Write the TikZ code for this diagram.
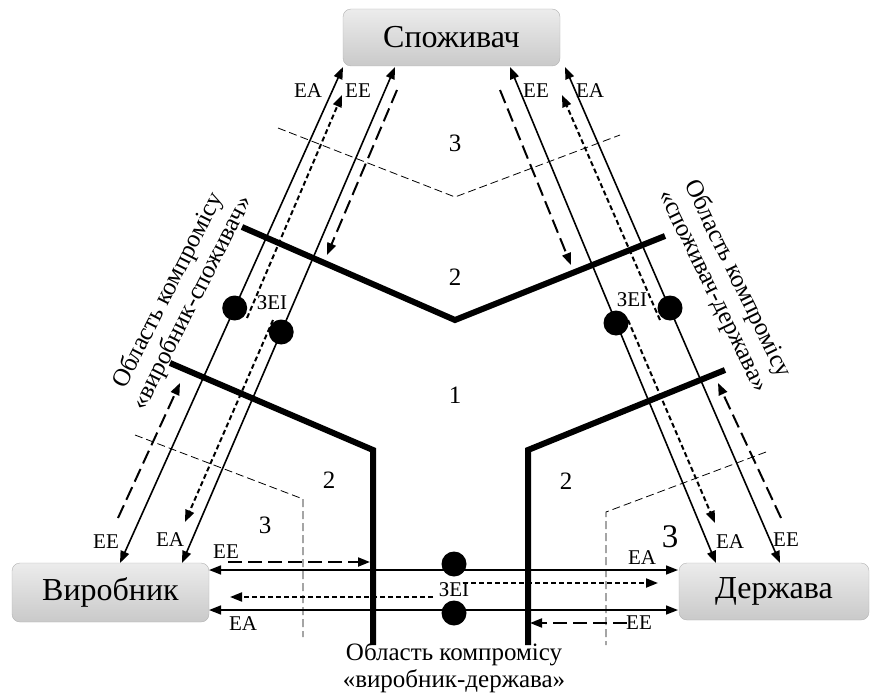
\documentclass[tikz,border=0pt]{standalone}
\usepackage{fontspec}
\setmainfont{Liberation Serif}
\usetikzlibrary{arrows.meta}

\begin{document}
\begin{tikzpicture}[x=1pt,y=-1pt]
\tikzstyle{box}=[rounded corners=8pt,draw=gray!60,top color=gray!15,bottom color=gray!42,font=\fontsize{32}{36}\selectfont,inner sep=0pt]
\tikzstyle{arr}=[line width=1.6pt,-{Triangle[length=12pt,width=9pt]}]
\tikzstyle{darr}=[line width=1.6pt,{Triangle[length=12pt,width=9pt]}-{Triangle[length=12pt,width=9pt]}]
\tikzstyle{sdash}=[line width=2pt,dash pattern=on 5pt off 3pt]
\tikzstyle{ldash}=[line width=2pt,dash pattern=on 14pt off 6pt]
\tikzstyle{border}=[line width=6pt]
\tikzstyle{zone}=[line width=0.8pt,dash pattern=on 8pt off 4pt]
\tikzstyle{dot}=[circle,fill=black,minimum size=25pt,inner sep=0pt]
\tikzstyle{lbl}=[font=\fontsize{21}{24}\selectfont,inner sep=0pt]
\tikzstyle{num}=[font=\fontsize{25}{28}\selectfont,inner sep=0pt]
\tikzstyle{area}=[font=\fontsize{25}{27}\selectfont,align=center,inner sep=0pt]
\useasboundingbox (0,0) rectangle (873,693);
\node[box,minimum width=217pt,minimum height=57pt] (spozh) at (451.5,37.5) {Споживач};
\node[box,minimum width=197pt,minimum height=59pt] (vyrob) at (110.5,592.5) {Виробник};
\node[box,minimum width=190pt,minimum height=57pt] (derzh) at (774,591.5) {Держава};
\coordinate (a1) at (120,563);
\coordinate (a2) at (343,67);
\coordinate (b1) at (182,563);
\coordinate (b2) at (395,67);
\coordinate (c1) at (716,563);
\coordinate (c2) at (510,67);
\coordinate (e1) at (780,563);
\coordinate (e2) at (565,67);
\coordinate (f1) at (209,570);
\coordinate (f2) at (678,570);
\coordinate (g1) at (209,610);
\coordinate (g2) at (678,610);
\node[dot] (k1) at (234.7,308) {};
\node[dot] (k2) at (281.2,332) {};
\node[dot] (k3) at (616,323) {};
\node[dot] (k4) at (670,308) {};
\node[dot] (k5) at (454,564) {};
\node[dot] (k6) at (454,613) {};
\draw[darr] (a1) -- (a2);
\draw[darr] (b1) -- (b2);
\draw[darr] (c2) -- (c1);
\draw[darr] (e2) -- (e1);
\draw[darr] (f1) -- (f2);
\draw[darr] (g1) -- (g2);
\coordinate (p1) at (247,318);
\coordinate (p2) at (342,95);
\coordinate (p3) at (273,320);
\coordinate (p4) at (185,522);
\coordinate (p5) at (660,320);
\coordinate (p6) at (562,95);
\coordinate (p7) at (628,320);
\coordinate (p8) at (715,523);
\coordinate (p9) at (463,583);
\coordinate (p10) at (658,583);
\coordinate (p11) at (433,597);
\coordinate (p12) at (230,597);
\draw[arr,sdash] (p1) -- (p2);
\draw[arr,sdash] (p3) -- (p4);
\draw[arr,sdash] (p5) -- (p6);
\draw[arr,sdash] (p7) -- (p8);
\draw[arr,sdash] (p9) -- (p10);
\draw[arr,sdash] (p11) -- (p12);
\coordinate (q1) at (397,90);
\coordinate (q2) at (327,255);
\coordinate (q3) at (118,518);
\coordinate (q4) at (180,383);
\coordinate (q5) at (500,90);
\coordinate (q6) at (571,265);
\coordinate (q7) at (781,518);
\coordinate (q8) at (718,383);
\coordinate (q9) at (228,562);
\coordinate (q10) at (370,562);
\coordinate (q11) at (627,623);
\coordinate (q12) at (530,623);
\draw[arr,ldash] (q1) -- (q2);
\draw[arr,ldash] (q3) -- (q4);
\draw[arr,ldash] (q5) -- (q6);
\draw[arr,ldash] (q7) -- (q8);
\draw[arr,ldash] (q9) -- (q10);
\draw[arr,ldash] (q11) -- (q12);
\draw[border] (242,227) -- (455,320) -- (665,236);
\draw[border] (170,363) -- (373,450) -- (373,645);
\draw[border] (725,370) -- (528,450) -- (528,645);
\draw[zone] (278,128) -- (455,197) -- (620,135);
\draw[zone] (135,435) -- (303,499) -- (303,637);
\draw[zone] (766,452) -- (606,512) -- (606,645);
\node[num] (n1) at (455,143) {3};
\node[num] (n2) at (455,277) {2};
\node[num] (n3) at (455,395) {1};
\node[num] (n4) at (329,480) {2};
\node[num] (n5) at (265,525) {3};
\node[num] (n6) at (566,481) {2};
\node[num,font=\fontsize{33}{36}\selectfont] (n7) at (670,537) {3};
\node[lbl] (t1) at (308,91) {EA};
\node[lbl] (t2) at (358,91) {EE};
\node[lbl] (t3) at (536,91) {EE};
\node[lbl] (t4) at (590,91) {EA};
\node[lbl] (t5) at (106,542) {EE};
\node[lbl] (t6) at (170,540) {EA};
\node[lbl] (t7) at (730,542) {EA};
\node[lbl] (t8) at (786,540) {EE};
\node[lbl] (t9) at (226,552) {EE};
\node[lbl] (t10) at (243,624) {EA};
\node[lbl] (t11) at (642,558) {EA};
\node[lbl] (t12) at (639,623) {EE};
\node[lbl] (z1) at (272,303) {ЗЕІ};
\node[lbl] (z2) at (632,300) {ЗЕІ};
\node[lbl] (z3) at (454,590) {ЗЕІ};
\node[area,rotate=63] (o1) at (180.5,297) {Область компромісу\\«виробник-споживач»};
\node[area,rotate=-64] (o2) at (725,285) {Область компромісу\\«споживач-держава»};
\node[area] (o3) at (454,668) {Область компромісу\\«виробник-держава»};
\end{tikzpicture}
\end{document}
